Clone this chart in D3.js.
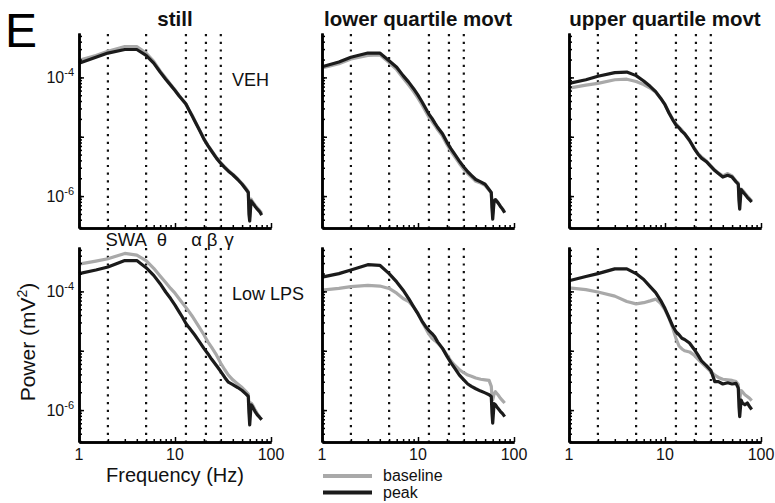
<!DOCTYPE html>
<html>
<head>
<meta charset="utf-8">
<script src="https://cdn.jsdelivr.net/npm/d3@7"></script>
<style>
  body { margin: 0; background: #fff; }
  svg { display: block; font-family: "Liberation Sans", Arial, sans-serif; }
</style>
</head>
<body>
<svg id="chart" width="775" height="503"></svg>
<script>
// frequency (Hz) sample points shared by all spectra
var freq = [1, 1.5, 2, 3, 4, 5, 6, 7, 8, 9, 10, 11, 12, 13, 14, 15, 16, 18, 20, 22,
            24, 27, 30, 33, 36, 40, 45, 50, 55, 58, 59, 60, 62, 64, 68, 72, 76, 80];

// power spectra, stored as log10(power in mV^2)
var vehStillBase = [-3.71, -3.63, -3.56, -3.48, -3.48, -3.59, -3.73, -3.89, -4.01, -4.12, -4.21, -4.30, -4.38, -4.45, -4.55, -4.63, -4.72, -4.88, -5.03, -5.14, -5.23, -5.35, -5.44, -5.51, -5.57, -5.63, -5.71, -5.79, -5.87, -5.92, -6.20, -6.35, -6.05, -6.09, -6.15, -6.20, -6.24, -6.29];
var vehStillPeak = [-3.76, -3.66, -3.59, -3.53, -3.53, -3.63, -3.76, -3.91, -4.03, -4.13, -4.22, -4.31, -4.38, -4.45, -4.55, -4.64, -4.73, -4.89, -5.04, -5.15, -5.24, -5.36, -5.45, -5.52, -5.58, -5.64, -5.72, -5.80, -5.89, -5.94, -6.31, -6.42, -6.08, -6.11, -6.17, -6.22, -6.26, -6.32];
var vehLowBase = [-3.84, -3.77, -3.69, -3.63, -3.62, -3.75, -3.87, -4.01, -4.13, -4.24, -4.35, -4.46, -4.57, -4.67, -4.74, -4.81, -4.88, -4.99, -5.13, -5.24, -5.33, -5.45, -5.55, -5.62, -5.68, -5.75, -5.78, -5.82, -5.90, -5.95, -6.15, -6.30, -6.07, -6.06, -6.11, -6.17, -6.22, -6.27];
var vehLowPeak = [-3.82, -3.74, -3.66, -3.59, -3.59, -3.72, -3.83, -3.97, -4.08, -4.19, -4.30, -4.41, -4.52, -4.62, -4.69, -4.77, -4.84, -4.95, -5.09, -5.20, -5.29, -5.41, -5.51, -5.59, -5.65, -5.72, -5.76, -5.80, -5.89, -5.94, -6.20, -6.39, -6.08, -6.06, -6.11, -6.17, -6.22, -6.28];
var vehUpBase = [-4.18, -4.13, -4.10, -4.04, -4.03, -4.07, -4.12, -4.18, -4.25, -4.35, -4.46, -4.59, -4.70, -4.78, -4.84, -4.89, -4.95, -5.07, -5.18, -5.28, -5.34, -5.41, -5.49, -5.56, -5.61, -5.66, -5.62, -5.66, -5.75, -5.78, -6.00, -6.10, -5.88, -5.90, -5.95, -6.00, -6.04, -6.08];
var vehUpPeak = [-4.10, -4.04, -3.98, -3.92, -3.91, -3.97, -4.06, -4.15, -4.24, -4.35, -4.46, -4.60, -4.71, -4.80, -4.85, -4.91, -4.95, -5.06, -5.19, -5.29, -5.36, -5.42, -5.50, -5.57, -5.62, -5.68, -5.65, -5.68, -5.76, -5.80, -6.08, -6.22, -5.89, -5.92, -5.97, -6.02, -6.06, -6.10];
var lpsStillBase = [-3.54, -3.49, -3.45, -3.36, -3.39, -3.48, -3.61, -3.74, -3.85, -3.95, -4.03, -4.12, -4.20, -4.27, -4.34, -4.41, -4.48, -4.61, -4.73, -4.85, -4.94, -5.07, -5.21, -5.32, -5.41, -5.49, -5.56, -5.62, -5.69, -5.73, -5.94, -6.11, -5.88, -5.91, -5.99, -6.06, -6.12, -6.16];
var lpsStillPeak = [-3.70, -3.64, -3.59, -3.48, -3.48, -3.60, -3.73, -3.87, -4.01, -4.12, -4.23, -4.34, -4.44, -4.54, -4.61, -4.67, -4.73, -4.85, -4.96, -5.05, -5.14, -5.25, -5.35, -5.45, -5.53, -5.57, -5.62, -5.67, -5.73, -5.77, -6.05, -6.25, -5.91, -5.94, -6.02, -6.08, -6.12, -6.16];
var lpsLowBase = [-3.98, -3.95, -3.92, -3.90, -3.91, -3.95, -4.03, -4.12, -4.17, -4.26, -4.37, -4.51, -4.62, -4.72, -4.79, -4.83, -4.87, -4.96, -5.07, -5.17, -5.24, -5.32, -5.37, -5.41, -5.43, -5.46, -5.48, -5.49, -5.50, -5.60, -5.77, -5.83, -5.73, -5.69, -5.74, -5.80, -5.84, -5.88];
var lpsLowPeak = [-3.76, -3.70, -3.64, -3.55, -3.56, -3.70, -3.84, -3.98, -4.12, -4.26, -4.38, -4.50, -4.59, -4.66, -4.71, -4.77, -4.85, -4.96, -5.09, -5.20, -5.29, -5.41, -5.49, -5.56, -5.60, -5.64, -5.68, -5.71, -5.74, -5.77, -6.05, -6.22, -5.89, -5.91, -5.97, -6.02, -6.06, -6.11];
var lpsUpBase = [-3.94, -3.97, -4.01, -4.08, -4.17, -4.21, -4.19, -4.16, -4.13, -4.20, -4.31, -4.45, -4.61, -4.79, -4.92, -4.97, -5.00, -5.02, -5.07, -5.14, -5.20, -5.28, -5.35, -5.41, -5.45, -5.48, -5.49, -5.50, -5.52, -5.57, -5.77, -5.83, -5.67, -5.69, -5.74, -5.77, -5.80, -5.84];
var lpsUpPeak = [-3.82, -3.75, -3.70, -3.62, -3.62, -3.70, -3.80, -3.92, -4.02, -4.15, -4.29, -4.44, -4.58, -4.68, -4.73, -4.79, -4.81, -4.87, -4.97, -5.07, -5.17, -5.25, -5.33, -5.52, -5.52, -5.56, -5.54, -5.56, -5.55, -5.63, -5.94, -6.11, -5.83, -5.88, -5.91, -5.88, -5.94, -5.99];

var colTitles = ["still", "lower quartile movt", "upper quartile movt"];
var rowLabels = ["VEH", "Low LPS"];
var bandEdges = [2, 5, 13, 21, 30];
var bandNames = ["SWA", "\u03b8", "\u03b1", "\u03b2", "\u03b3"];
var bandNameFreq = [3.1, 7.3, 16.8, 24.3, 36.6];
var seriesNames = ["baseline", "peak"];
var xTickLabels = ["1", "10", "100"];
var yTickLabels = [-4, -6];

// rows x cols of [baseline, peak]
var panels = [
    [[vehStillBase, vehStillPeak], [vehLowBase, vehLowPeak], [vehUpBase, vehUpPeak]],
    [[lpsStillBase, lpsStillPeak], [lpsLowBase, lpsLowPeak], [lpsUpBase, lpsUpPeak]]
];

var colors = ["#a9a9a9", "#1b1b1b"];
var colX = [79, 322, 569];
var rowY = [33, 247];
var width = 192, height = 195;

var svg = d3.select("#chart");

var x = d3.scaleLog().domain([1, 100]).range([0, width]);
var y = d3.scaleLog().domain([2.9e-7, 5.6e-4]).range([height, 0]);

var xMinor = [], yMinor = [];
[1, 10].forEach(function(d) {
    for (var m = 2; m <= 9; m++) xMinor.push(m * d);
});
[-7, -6, -5, -4].forEach(function(k) {
    for (var m = 1; m <= 9; m++) {
        var v = m * Math.pow(10, k);
        if (v >= 2.9e-7 && v <= 5.6e-4) yMinor.push(v);
    }
});

var line = d3.line()
    .x(function(d) { return x(d[0]); })
    .y(function(d) { return y(Math.pow(10, d[1])); });

panels.forEach(function(row, r) {
    row.forEach(function(pair, c) {
        var g = svg.append("g")
            .attr("transform", "translate(" + colX[c] + "," + rowY[r] + ")");

        // band edge dotted lines
        g.selectAll(".band").data(bandEdges).enter().append("line")
            .attr("x1", function(d) { return x(d); })
            .attr("x2", function(d) { return x(d); })
            .attr("y1", 1).attr("y2", height)
            .attr("stroke", "#111").attr("stroke-width", 2.2)
            .attr("stroke-dasharray", "2.2,5.5");

        // spectra
        pair.forEach(function(vals, i) {
            var pts = freq.map(function(f, j) { return [f, vals[j]]; });
            g.append("path").datum(pts)
                .attr("d", line)
                .attr("fill", "none")
                .attr("stroke", colors[i])
                .attr("stroke-width", 3.2)
                .attr("stroke-linejoin", "round");
        });

        // axes
        var yAx = g.append("g").call(d3.axisLeft(y).tickValues(yMinor)
            .tickSize(-3).tickSizeOuter(0).tickFormat(""));
        var yAxMaj = g.append("g").call(d3.axisLeft(y).tickValues([1e-6, 1e-5, 1e-4])
            .tickSize(-5).tickSizeOuter(0).tickFormat(""));
        var xAx = g.append("g").attr("transform", "translate(0," + height + ")")
            .call(d3.axisBottom(x).tickValues(xMinor).tickSize(-3).tickSizeOuter(0).tickFormat(""));
        var xAxMaj = g.append("g").attr("transform", "translate(0," + height + ")")
            .call(d3.axisBottom(x).tickValues([1, 10, 100]).tickSize(-5).tickSizeOuter(0).tickFormat(""));
        [yAx, yAxMaj, xAx, xAxMaj].forEach(function(a) {
            a.select(".domain").attr("stroke", "#000").attr("stroke-width", 2.5);
            a.selectAll(".tick line").attr("stroke", "#000").attr("stroke-width", 1.5);
        });

        // y tick labels on first column
        if (c === 0) {
            yTickLabels.forEach(function(k) {
                var t = g.append("text")
                    .attr("x", -5).attr("y", y(Math.pow(10, k)) + 6)
                    .attr("text-anchor", "end")
                    .attr("font-size", 16).attr("fill", "#111");
                t.append("tspan").text("10");
                t.append("tspan").attr("dy", -7).attr("font-size", 11).text("-" + Math.abs(k));
            });
            g.append("text")
                .attr("x", 153).attr("y", 53)
                .attr("font-size", 18).attr("fill", "#111")
                .text(rowLabels[r]);
        }

        // x tick labels on bottom row
        if (r === 1) {
            g.selectAll(".xl").data([1, 10, 100]).enter().append("text")
                .attr("x", function(d) { return x(d); })
                .attr("y", height + 18)
                .attr("text-anchor", "middle")
                .attr("font-size", 16).attr("fill", "#111")
                .text(function(d, i) { return xTickLabels[i]; });
        }

        if (r === 0) {
            svg.append("text")
                .attr("x", colX[c] + width / 2).attr("y", 26)
                .attr("text-anchor", "middle")
                .attr("font-size", 20.5).attr("font-weight", "bold").attr("fill", "#111")
                .text(colTitles[c]);
        }

        // band names above bottom-left panel
        if (r === 1 && c === 0) {
            g.selectAll(".bn").data(bandNames).enter().append("text")
                .attr("x", function(d, i) { return x(bandNameFreq[i]); })
                .attr("y", -1)
                .attr("text-anchor", "middle")
                .attr("font-size", 18.5).attr("fill", "#111")
                .text(function(d) { return d; });
        }
    });
});

// panel letter
svg.append("text").attr("x", 5).attr("y", 47)
    .attr("font-size", 48).attr("fill", "#000").text("E");

// axis titles
var yt = svg.append("text")
    .attr("transform", "translate(35,342) rotate(-90)")
    .attr("text-anchor", "middle")
    .attr("font-size", 21).attr("fill", "#111");
yt.append("tspan").text("Power (mV");
yt.append("tspan").attr("dy", -8).attr("font-size", 14).text("2");
yt.append("tspan").attr("dy", 8).text(")");

svg.append("text")
    .attr("x", colX[0] + width / 2).attr("y", 482)
    .attr("text-anchor", "middle")
    .attr("font-size", 20).attr("fill", "#111")
    .text("Frequency (Hz)");

// legend
var leg = svg.append("g").attr("transform", "translate(" + (colX[1] + 1) + ",476)");
seriesNames.forEach(function(name, i) {
    leg.append("line")
        .attr("x1", 0).attr("x2", 49)
        .attr("y1", i * 16.5).attr("y2", i * 16.5)
        .attr("stroke", colors[i]).attr("stroke-width", 4);
    leg.append("text")
        .attr("x", 60).attr("y", i * 16.5 + 5)
        .attr("font-size", 16).attr("fill", "#111")
        .text(name);
});
</script>
</body>
</html>
